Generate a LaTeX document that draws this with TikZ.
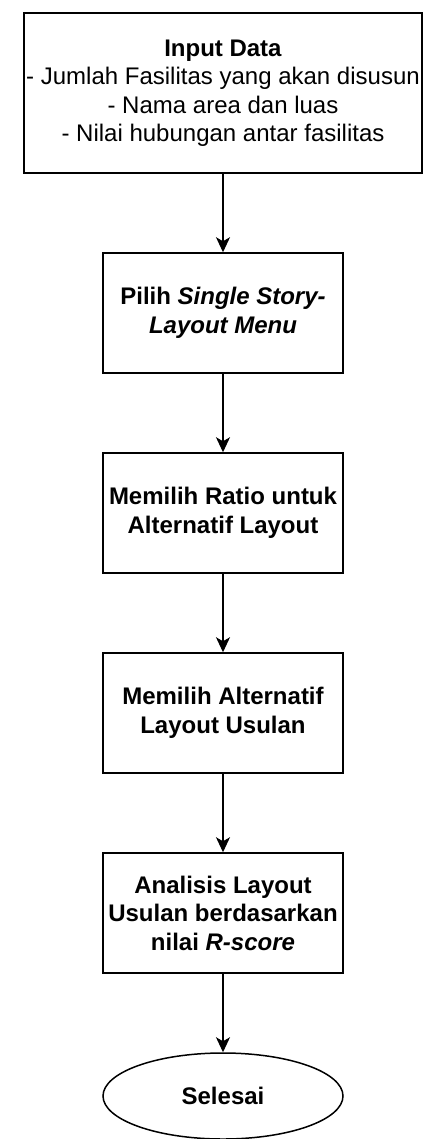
\documentclass[tikz,border=0pt]{standalone}
\usepackage{fontspec}
\setmainfont{Liberation Sans}
\usetikzlibrary{arrows.meta,shapes.geometric}

\begin{document}
\begin{tikzpicture}[x=1pt,y=-1pt,
    txt/.style={font=\fontsize{24}{28.5}\selectfont,align=center,inner sep=2pt},
    inputbox/.style={txt,draw,line width=1.5pt,minimum width=398pt,minimum height=160pt},
    stepbox/.style={txt,draw,line width=1.5pt,minimum width=240pt,minimum height=120pt,font=\fontsize{24}{28.5}\selectfont\bfseries},
    endbox/.style={txt,ellipse,draw,line width=1.5pt,minimum width=240pt,minimum height=86pt,font=\fontsize{24}{28.5}\selectfont\bfseries},
    flow/.style={-{Stealth[length=15pt,width=14pt,inset=4pt]},line width=1.5pt}]
    \useasboundingbox (0,0) rectangle (423,1139);
    \node[inputbox] (input) at (223,93) {\textbf{Input Data}\\- Jumlah Fasilitas yang akan disusun\\- Nama area dan luas\\- Nilai hubungan antar fasilitas};
    \node[stepbox] (pilih) at (223,313) {Pilih \textit{Single Story-}\\\textit{Layout Menu}};
    \node[stepbox] (ratio) at (223,513) {Memilih Ratio untuk\\Alternatif Layout};
    \node[stepbox] (alt) at (223,713) {Memilih Alternatif\\Layout Usulan};
    \node[stepbox] (analisis) at (223,913) {Analisis Layout\\Usulan berdasarkan\\nilai \textit{R-score}};
    \node[endbox] (selesai) at (223,1096) {Selesai};
    \draw[flow] (input) -- (pilih);
    \draw[flow] (pilih) -- (ratio);
    \draw[flow] (ratio) -- (alt);
    \draw[flow] (alt) -- (analisis);
    \draw[flow] (analisis) -- (selesai);
\end{tikzpicture}
\end{document}
